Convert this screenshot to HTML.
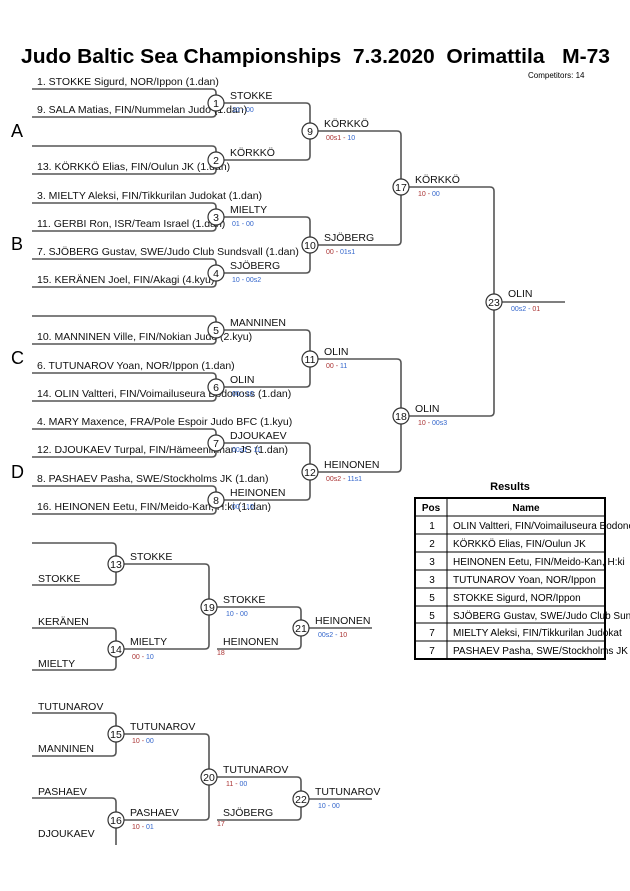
<!DOCTYPE html>
<html><head><meta charset="utf-8"><style>
html,body{margin:0;padding:0;background:#fff;}
svg{display:block;font-family:"Liberation Sans",Arial,sans-serif;}
.l{fill:none;stroke:#555;stroke-width:1.6;}
.c{fill:#fff;stroke:#333;stroke-width:1.2;}
.n{font-size:10.5px;fill:#111;}
.cn{font-size:10.5px;fill:#111;text-anchor:middle;}
.s{font-size:7px;fill:#a33;}
.b{fill:#36c;}
.g{font-size:18px;fill:#000;}
</style></head><body>
<svg width="630" height="891" viewBox="0 0 630 891">
<text x="21" y="63" font-size="20.5" font-weight="bold" textLength="589" lengthAdjust="spacingAndGlyphs" xml:space="preserve">Judo Baltic Sea Championships  7.3.2020  Orimattila   M-73</text>
<text x="528" y="78" font-size="8">Competitors: 14</text>
<text class="g" x="11" y="137">A</text>
<text class="g" x="11" y="250">B</text>
<text class="g" x="11" y="364">C</text>
<text class="g" x="11" y="478">D</text>
<path class="l" d="M32,89H212Q216,89 216,93V113Q216,117 212,117H32"/>
<path class="l" d="M32,146H212Q216,146 216,150V170Q216,174 212,174H32"/>
<path class="l" d="M32,203H212Q216,203 216,207V227Q216,231 212,231H32"/>
<path class="l" d="M32,259H212Q216,259 216,263V283Q216,287 212,287H32"/>
<path class="l" d="M32,316H212Q216,316 216,320V340Q216,344 212,344H32"/>
<path class="l" d="M32,373H212Q216,373 216,377V397Q216,401 212,401H32"/>
<path class="l" d="M32,429H212Q216,429 216,433V453Q216,457 212,457H32"/>
<path class="l" d="M32,486H212Q216,486 216,490V510Q216,514 212,514H32"/>
<path class="l" d="M216,103H306Q310,103 310,107V156Q310,160 306,160H216"/>
<path class="l" d="M216,217H306Q310,217 310,221V269Q310,273 306,273H216"/>
<path class="l" d="M216,330H306Q310,330 310,334V383Q310,387 306,387H216"/>
<path class="l" d="M216,443H306Q310,443 310,447V496Q310,500 306,500H216"/>
<path class="l" d="M310,131H397Q401,131 401,135V241Q401,245 397,245H310"/>
<path class="l" d="M310,359H397Q401,359 401,363V468Q401,472 397,472H310"/>
<path class="l" d="M401,187H490Q494,187 494,191V412Q494,416 490,416H401"/>
<path class="l" d="M494,302H565"/>
<text class="n" x="37" y="85">1. STOKKE Sigurd, NOR/Ippon (1.dan)</text>
<text class="n" x="37" y="113">9. SALA Matias, FIN/Nummelan Judo (1.dan)</text>
<text class="n" x="37" y="170">13. KÖRKKÖ Elias, FIN/Oulun JK (1.dan)</text>
<text class="n" x="37" y="199">3. MIELTY Aleksi, FIN/Tikkurilan Judokat (1.dan)</text>
<text class="n" x="37" y="227">11. GERBI Ron, ISR/Team Israel (1.dan)</text>
<text class="n" x="37" y="255">7. SJÖBERG Gustav, SWE/Judo Club Sundsvall (1.dan)</text>
<text class="n" x="37" y="283">15. KERÄNEN Joel, FIN/Akagi (4.kyu)</text>
<text class="n" x="37" y="340">10. MANNINEN Ville, FIN/Nokian Judo (2.kyu)</text>
<text class="n" x="37" y="369">6. TUTUNAROV Yoan, NOR/Ippon (1.dan)</text>
<text class="n" x="37" y="397">14. OLIN Valtteri, FIN/Voimailuseura Bodonoss (1.dan)</text>
<text class="n" x="37" y="425">4. MARY Maxence, FRA/Pole Espoir Judo BFC (1.kyu)</text>
<text class="n" x="37" y="453">12. DJOUKAEV Turpal, FIN/Hämeenlinnan JS (1.dan)</text>
<text class="n" x="37" y="482">8. PASHAEV Pasha, SWE/Stockholms JK (1.dan)</text>
<text class="n" x="37" y="510">16. HEINONEN Eetu, FIN/Meido-Kan, H:ki (1.dan)</text>
<text class="n" x="230" y="99">STOKKE</text><text class="s b" x="232" y="112">10 - 00</text>
<text class="n" x="230" y="156">KÖRKKÖ</text>
<text class="n" x="230" y="213">MIELTY</text><text class="s" x="232" y="226"><tspan class="b">01 - 00</tspan></text>
<text class="n" x="230" y="269">SJÖBERG</text><text class="s b" x="232" y="282">10 - 00s2</text>
<text class="n" x="230" y="326">MANNINEN</text>
<text class="n" x="230" y="383">OLIN</text><text class="s b" x="232" y="396">00 - 10</text>
<text class="n" x="230" y="439">DJOUKAEV</text><text class="s b" x="232" y="452">00s1 - 11</text>
<text class="n" x="230" y="496">HEINONEN</text><text class="s b" x="232" y="509">00 - 10</text>
<text class="n" x="324" y="127">KÖRKKÖ</text><text class="s" x="326" y="140">00s1 - <tspan class="b">10</tspan></text>
<text class="n" x="324" y="241">SJÖBERG</text><text class="s" x="326" y="254">00 - <tspan class="b">01s1</tspan></text>
<text class="n" x="324" y="355">OLIN</text><text class="s" x="326" y="368">00 - <tspan class="b">11</tspan></text>
<text class="n" x="324" y="468">HEINONEN</text><text class="s" x="326" y="481">00s2 - <tspan class="b">11s1</tspan></text>
<text class="n" x="415" y="183">KÖRKKÖ</text><text class="s" x="418" y="196">10 - <tspan class="b">00</tspan></text>
<text class="n" x="415" y="412">OLIN</text><text class="s" x="418" y="425">10 - <tspan class="b">00s3</tspan></text>
<text class="n" x="508" y="297">OLIN</text><text class="s b" x="511" y="311">00s2 - <tspan fill="#a33">01</tspan></text>
<g>
<circle class="c" cx="216" cy="103" r="8"/><text class="cn" x="216" y="107">1</text>
<circle class="c" cx="216" cy="160" r="8"/><text class="cn" x="216" y="164">2</text>
<circle class="c" cx="216" cy="217" r="8"/><text class="cn" x="216" y="221">3</text>
<circle class="c" cx="216" cy="273" r="8"/><text class="cn" x="216" y="277">4</text>
<circle class="c" cx="216" cy="330" r="8"/><text class="cn" x="216" y="334">5</text>
<circle class="c" cx="216" cy="387" r="8"/><text class="cn" x="216" y="391">6</text>
<circle class="c" cx="216" cy="443" r="8"/><text class="cn" x="216" y="447">7</text>
<circle class="c" cx="216" cy="500" r="8"/><text class="cn" x="216" y="504">8</text>
<circle class="c" cx="310" cy="131" r="8"/><text class="cn" x="310" y="135">9</text>
<circle class="c" cx="310" cy="245" r="8"/><text class="cn" x="310" y="249">10</text>
<circle class="c" cx="310" cy="359" r="8"/><text class="cn" x="310" y="363">11</text>
<circle class="c" cx="310" cy="472" r="8"/><text class="cn" x="310" y="476">12</text>
<circle class="c" cx="401" cy="187" r="8"/><text class="cn" x="401" y="191">17</text>
<circle class="c" cx="401" cy="416" r="8"/><text class="cn" x="401" y="420">18</text>
<circle class="c" cx="494" cy="302" r="8"/><text class="cn" x="494" y="306">23</text>
</g>
<path class="l" d="M32,543H112Q116,543 116,547V581Q116,585 112,585H32"/>
<path class="l" d="M32,628H112Q116,628 116,632V666Q116,670 112,670H32"/>
<path class="l" d="M116,564H205Q209,564 209,568V645Q209,649 205,649H116"/>
<path class="l" d="M209,607H297Q301,607 301,611V645Q301,649 297,649H217"/>
<path class="l" d="M301,628H372"/>
<text class="n" x="38" y="582">STOKKE</text>
<text class="n" x="38" y="625">KERÄNEN</text>
<text class="n" x="38" y="667">MIELTY</text>
<text class="n" x="130" y="560">STOKKE</text>
<text class="n" x="130" y="645">MIELTY</text><text class="s" x="132" y="659">00 - <tspan class="b">10</tspan></text>
<text class="n" x="223" y="603">STOKKE</text><text class="s b" x="226" y="616">10 - 00</text>
<text class="n" x="223" y="645">HEINONEN</text><text class="s" x="217" y="655" font-size="6">18</text>
<text class="n" x="315" y="624">HEINONEN</text><text class="s b" x="318" y="637">00s2 - <tspan fill="#a33">10</tspan></text>
<circle class="c" cx="116" cy="564" r="8"/><text class="cn" x="116" y="568">13</text>
<circle class="c" cx="116" cy="649" r="8"/><text class="cn" x="116" y="653">14</text>
<circle class="c" cx="209" cy="607" r="8"/><text class="cn" x="209" y="611">19</text>
<circle class="c" cx="301" cy="628" r="8"/><text class="cn" x="301" y="632">21</text>
<path class="l" d="M32,713H112Q116,713 116,717V752Q116,756 112,756H32"/>
<path class="l" d="M32,798H112Q116,798 116,802V845"/>
<path class="l" d="M116,734H205Q209,734 209,738V816Q209,820 205,820H116"/>
<path class="l" d="M209,777H297Q301,777 301,781V816Q301,820 297,820H217"/>
<path class="l" d="M301,799H372"/>
<text class="n" x="38" y="710">TUTUNAROV</text>
<text class="n" x="38" y="752">MANNINEN</text>
<text class="n" x="38" y="795">PASHAEV</text>
<text class="n" x="38" y="837">DJOUKAEV</text>
<text class="n" x="130" y="730">TUTUNAROV</text><text class="s" x="132" y="743">10 - <tspan class="b">00</tspan></text>
<text class="n" x="130" y="816">PASHAEV</text><text class="s" x="132" y="829">10 - <tspan class="b">01</tspan></text>
<text class="n" x="223" y="773">TUTUNAROV</text><text class="s" x="226" y="786">11 - <tspan class="b">00</tspan></text>
<text class="n" x="223" y="816">SJÖBERG</text><text class="s" x="217" y="826" font-size="6">17</text>
<text class="n" x="315" y="795">TUTUNAROV</text><text class="s b" x="318" y="808">10 - 00</text>
<circle class="c" cx="116" cy="734" r="8"/><text class="cn" x="116" y="738">15</text>
<circle class="c" cx="116" cy="820" r="8"/><text class="cn" x="116" y="824">16</text>
<circle class="c" cx="209" cy="777" r="8"/><text class="cn" x="209" y="781">20</text>
<circle class="c" cx="301" cy="799" r="8"/><text class="cn" x="301" y="803">22</text>
<text x="510" y="490" text-anchor="middle" font-size="11" font-weight="bold">Results</text>
<g font-size="10">
<rect x="415" y="498" width="190" height="161" fill="none" stroke="#000" stroke-width="2"/>
<path d="M447,498V659M415,516H605M415,534H605M415,552H605M415,570H605M415,588H605M415,606H605M415,623H605M415,641H605" stroke="#000" stroke-width="1"/>
<text x="431" y="511" text-anchor="middle" font-weight="bold">Pos</text>
<text x="526" y="511" text-anchor="middle" font-weight="bold">Name</text>
<text x="432" y="529" text-anchor="middle">1</text><text x="453" y="529">OLIN Valtteri, FIN/Voimailuseura Bodonoss</text>
<text x="432" y="547" text-anchor="middle">2</text><text x="453" y="547">KÖRKKÖ Elias, FIN/Oulun JK</text>
<text x="432" y="565" text-anchor="middle">3</text><text x="453" y="565">HEINONEN Eetu, FIN/Meido-Kan, H:ki</text>
<text x="432" y="583" text-anchor="middle">3</text><text x="453" y="583">TUTUNAROV Yoan, NOR/Ippon</text>
<text x="432" y="601" text-anchor="middle">5</text><text x="453" y="601">STOKKE Sigurd, NOR/Ippon</text>
<text x="432" y="619" text-anchor="middle">5</text><text x="453" y="619">SJÖBERG Gustav, SWE/Judo Club Sundsvall</text>
<text x="432" y="636" text-anchor="middle">7</text><text x="453" y="636">MIELTY Aleksi, FIN/Tikkurilan Judokat</text>
<text x="432" y="654" text-anchor="middle">7</text><text x="453" y="654">PASHAEV Pasha, SWE/Stockholms JK</text>
</g>
</svg>
</body></html>
